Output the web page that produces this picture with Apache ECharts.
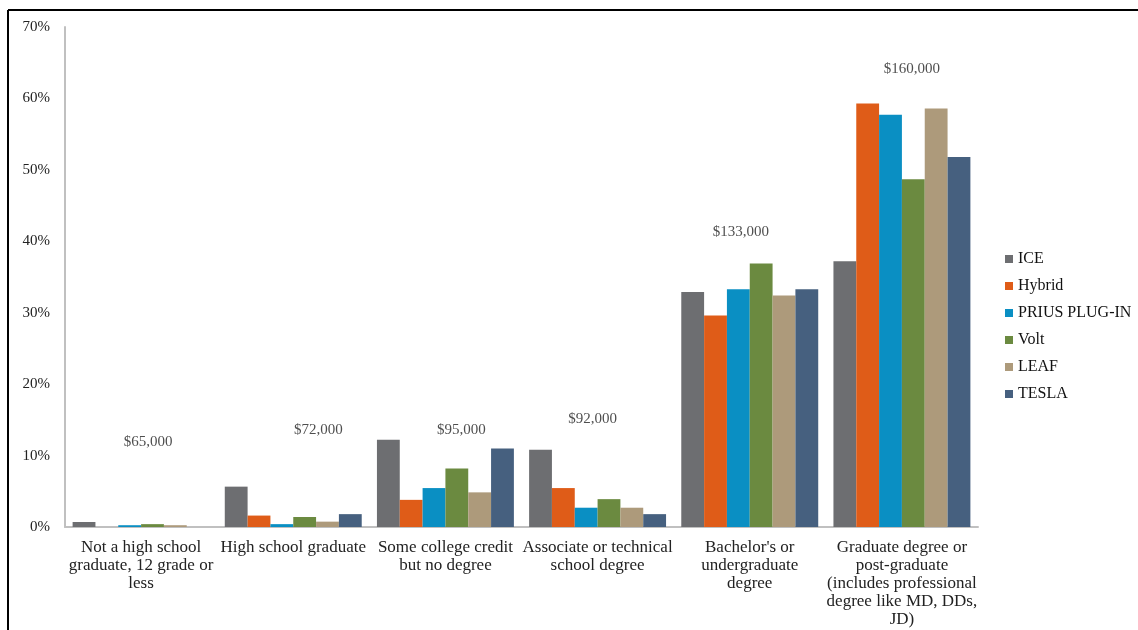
<!DOCTYPE html>
<html>
<head>
<meta charset="utf-8">
<script src="https://cdn.jsdelivr.net/npm/echarts@6/dist/echarts.min.js"></script>
<style>html,body{margin:0;padding:0;background:#fff}#c{width:1138px;height:630px}</style>
</head>
<body>
<div id="c"></div>
<script>
const categories = [
  "Not a high school\ngraduate, 12 grade or\nless",
  "High school graduate",
  "Some college credit\nbut no degree",
  "Associate or technical\nschool degree",
  "Bachelor's or\nundergraduate\ndegree",
  "Graduate degree or\npost-graduate\n(includes professional\ndegree like MD, DDs,\nJD)"
];
const seriesNames = ["ICE", "Hybrid", "PRIUS PLUG-IN", "Volt", "LEAF", "TESLA"];
const ICE     = [0.7, 5.65, 12.2, 10.8, 32.9, 37.2];
const Hybrid  = [0.0, 1.6, 3.8, 5.45, 29.6, 59.3];
const Prius   = [0.25, 0.4, 5.45, 2.7, 33.3, 57.7];
const Volt    = [0.4, 1.4, 8.2, 3.9, 36.9, 48.7];
const LEAF    = [0.25, 0.75, 4.85, 2.7, 32.4, 58.6];
const TESLA   = [0.0, 1.8, 11.0, 1.8, 33.3, 51.8];
const incomeLabels = ["$65,000", "$72,000", "$95,000", "$92,000", "$133,000", "$160,000"];
const incomeLabelHeights = [11.9, 13.6, 13.6, 15.1, 41.3, 64.1];
const incomeLabelShift = [7, 25, 16, -5, -9, 10];
const yTicks = [0, 10, 20, 30, 40, 50, 60, 70];

const colors = ["#6d6e71", "#df5c18", "#0a8fc3", "#6b8a40", "#ad9a7b", "#46607f"];
const seriesData = [ICE, Hybrid, Prius, Volt, LEAF, TESLA];
const FONT = "Liberation Serif";

const chart = echarts.init(document.getElementById('c'), null, {renderer: 'canvas'});
const barSeries = seriesNames.map((n, i) => ({
  name: n,
  type: 'bar',
  data: seriesData[i],
  barGap: '0%',
  barCategoryGap: '10%',
  itemStyle: {color: colors[i]},
  emphasis: {disabled: true}
}));
const labelSeries = {
  type: 'scatter',
  symbolSize: 0,
  silent: true,
  data: incomeLabels.map((t, i) => ({
    value: [i, incomeLabelHeights[i]],
    label: {formatter: t, offset: [incomeLabelShift[i], 0]}
  })),
  label: {show: true, position: 'inside', fontFamily: FONT, fontSize: 15, color: '#222'}
};
chart.setOption({
  animation: false,
  color: colors,
  textStyle: {fontFamily: FONT},
  grid: {left: 65, right: 160, top: 27, bottom: 103, containLabel: false, outerBoundsMode: 'none'},
  legend: {
    data: seriesNames,
    orient: 'vertical',
    left: 1000,
    top: 246,
    icon: 'rect',
    itemWidth: 8,
    itemHeight: 8,
    itemGap: 11,
    textStyle: {fontFamily: FONT, fontSize: 16, color: '#111'}
  },
  xAxis: {
    type: 'category',
    data: categories,
    axisLine: {lineStyle: {color: '#c0c0c0', width: 2}},
    axisTick: {show: false},
    axisLabel: {interval: 0, fontFamily: FONT, fontSize: 17, color: '#222', lineHeight: 18, margin: 12}
  },
  yAxis: {
    type: 'value',
    min: 0, max: 70, interval: 10,
    axisLine: {show: true, lineStyle: {color: '#c0c0c0', width: 2}},
    axisTick: {show: false},
    splitLine: {show: false},
    axisLabel: {fontFamily: FONT, fontSize: 15, color: '#222', margin: 15,
      formatter: v => yTicks.includes(v) ? v + '%' : ''}
  },
  graphic: [
    {type: 'line', shape: {x1: 8, y1: 10, x2: 1138, y2: 10}, style: {stroke: '#000', lineWidth: 2}},
    {type: 'line', shape: {x1: 8, y1: 10, x2: 8, y2: 630}, style: {stroke: '#000', lineWidth: 2}}
  ],
  series: [...barSeries, labelSeries]
});
</script>
</body>
</html>
